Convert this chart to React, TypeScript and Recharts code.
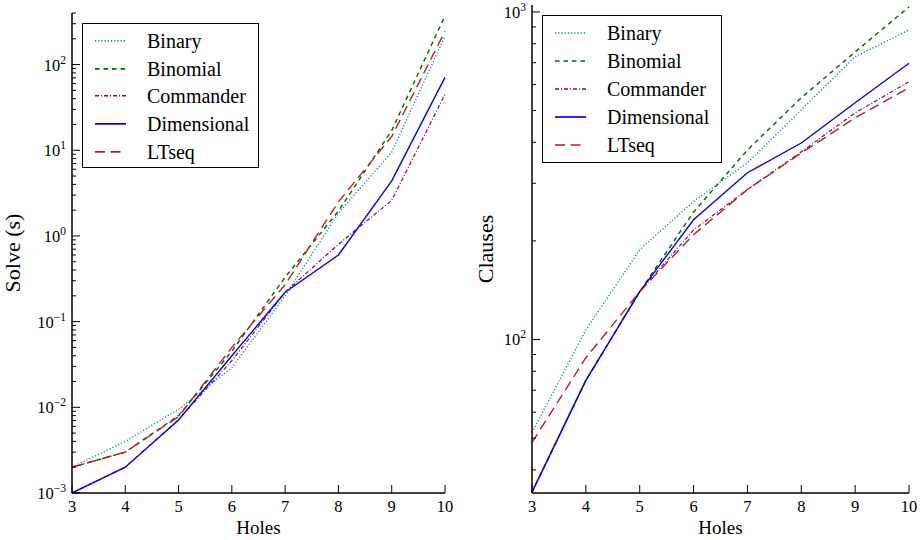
import React from "react";
import { Label, Legend, Line, LineChart, XAxis, YAxis } from "recharts";

const holes = [3, 4, 5, 6, 7, 8, 9, 10];

// solve time (s), left panel
const solveBinary = [0.002, 0.004, 0.0095, 0.029, 0.2, 1.85, 9.5, 215];
const solveBinomial = [0.002, 0.003, 0.008, 0.045, 0.33, 1.95, 17, 370];
const solveCommander = [0.001, 0.002, 0.0072, 0.035, 0.22, 0.8, 2.6, 45];
const solveDimensional = [0.001, 0.002, 0.0071, 0.04, 0.22, 0.6, 4.4, 71];
const solveLTseq = [0.002, 0.003, 0.0078, 0.05, 0.27, 2.5, 14.5, 245];

// clause counts, right panel
const clausesBinary = [52, 107, 188, 264, 346, 503, 730, 881];
const clausesBinomial = [34.2, 75, 140, 245, 379, 547, 755, 1036];
const clausesCommander = [34.2, 75, 140, 216, 287, 374, 492, 612];
const clausesDimensional = [34.2, 75, 140, 232, 323, 398, 528, 697];
const clausesLTseq = [48.5, 88, 140, 209, 287, 371, 475, 587];

const seriesNames = ["Binary", "Binomial", "Commander", "Dimensional", "LTseq"];
const solveSeries = [solveBinary, solveBinomial, solveCommander, solveDimensional, solveLTseq];
const clauseSeries = [clausesBinary, clausesBinomial, clausesCommander, clausesDimensional, clausesLTseq];

const styles: Record<string, { color: string; dash?: string; width: number }> = {
  Binary: { color: "#008b8b", dash: "1.2 2", width: 1.3 },
  Binomial: { color: "#006400", dash: "4.5 4", width: 1.4 },
  Commander: { color: "#800080", dash: "4 2 1 2", width: 1.2 },
  Dimensional: { color: "#0000ff", width: 1.4 },
  LTseq: { color: "#b22222", dash: "10 5.5", width: 1.4 },
};

const FONT = "'Liberation Serif', 'DejaVu Serif', serif";

const buildRows = (series: number[][]) =>
  holes.map((h, i) => {
    const row: Record<string, number> = { holes: h };
    seriesNames.forEach((name, k) => {
      row[name] = series[k][i];
    });
    return row;
  });

const solveRows = buildRows(solveSeries);
const clauseRows = buildRows(clauseSeries);

const logTicks = (lo: number, hi: number) => {
  const out: number[] = [];
  for (let e = -4; e <= 4; e++) {
    for (let m = 1; m <= 9; m++) {
      const v = Number((m * Math.pow(10, e)).toPrecision(6));
      if (v >= lo && v <= hi) out.push(v);
    }
  }
  return out;
};

const solveTicks = logTicks(0.001, 400);
const clauseTicks = logTicks(34, 1050);

const decade = (v: number) => {
  const l = Math.log10(v);
  return Math.abs(l - Math.round(l)) < 1e-6 ? Math.round(l) : null;
};

const MAJOR = 8;
const MINOR = 4;

const LeftTick = (props: any) => {
  const { x, y, payload } = props;
  const exp = decade(payload.value);
  return (
    <g>
      <line x1={x} x2={x + (exp !== null ? MAJOR : MINOR)} y1={y} y2={y} stroke="#000" strokeWidth={1} />
      {exp !== null && (
        <text x={x - 6} y={y} dy="0.36em" textAnchor="end" fontFamily={FONT} fontSize={16.5} fill="#000">
          10
          <tspan dy={-7} fontSize={11.5}>
            {exp < 0 ? `\u2212${-exp}` : exp}
          </tspan>
        </text>
      )}
    </g>
  );
};

const RightTick = (props: any) => {
  const { x, y, payload } = props;
  const exp = decade(payload.value);
  return <line x1={x} x2={x - (exp !== null ? MAJOR : MINOR)} y1={y} y2={y} stroke="#000" strokeWidth={1} />;
};

const BottomTick = (props: any) => {
  const { x, y, payload } = props;
  return (
    <g>
      <line x1={x} x2={x} y1={y} y2={y - MAJOR} stroke="#000" strokeWidth={1} />
      <text x={x} y={y + 7} dy="0.72em" textAnchor="middle" fontFamily={FONT} fontSize={16.5} fill="#000">
        {payload.value}
      </text>
    </g>
  );
};

const TopTick = (props: any) => {
  const { x, y } = props;
  return <line x1={x} x2={x} y1={y} y2={y + MAJOR} stroke="#000" strokeWidth={1} />;
};

const LegendBox = ({ width, height, rowH, padTop }: { width: number; height: number; rowH: number; padTop: number }) => (
  <div
    style={{
      width,
      height,
      boxSizing: "border-box",
      border: "1.5px solid #000",
      background: "#fff",
      paddingTop: padTop,
      fontFamily: FONT,
      fontSize: 20,
      color: "#000",
    }}
  >
    {seriesNames.map((name) => {
      const s = styles[name];
      return (
        <div key={name} style={{ height: rowH, display: "flex", alignItems: "center" }}>
          <svg width={64} height={rowH} style={{ flex: "none" }}>
            <line
              x1={12}
              x2={43}
              y1={rowH / 2}
              y2={rowH / 2}
              stroke={s.color}
              strokeWidth={s.width + 0.3}
              strokeDasharray={s.dash}
            />
          </svg>
          <span style={{ lineHeight: 1 }}>{name}</span>
        </div>
      );
    })}
  </div>
);

type PanelProps = {
  rows: Record<string, number>[];
  domain: [number, number];
  ticks: number[];
  margin: { top: number; right: number; bottom: number; left: number };
  yLabel: string;
  yLabelShift: number;
  legend: { top: number; left: number; width: number; height: number; rowH: number; padTop: number };
};

const Panel = ({ rows, domain, ticks, margin, yLabel, yLabelShift, legend }: PanelProps) => (
  <LineChart width={460} height={540} data={rows} margin={margin}>
    <XAxis
      dataKey="holes"
      type="number"
      domain={[3, 10]}
      ticks={holes}
      interval={0}
      height={30}
      tickSize={0}
      tickMargin={0}
      tickLine={false}
      axisLine={{ stroke: "#000", strokeWidth: 1.5 }}
      tick={<BottomTick />}
    >
      <Label
        content={({ viewBox }: any) => (
          <text
            x={viewBox.x + viewBox.width / 2}
            y={viewBox.y + 41}
            textAnchor="middle"
            fontFamily={FONT}
            fontSize={19}
            fill="#000"
          >
            Holes
          </text>
        )}
      />
    </XAxis>
    <XAxis
      xAxisId="top"
      orientation="top"
      type="number"
      domain={[3, 10]}
      ticks={holes}
      interval={0}
      height={0}
      tickSize={0}
      tickMargin={0}
      tickLine={false}
      axisLine={{ stroke: "#000", strokeWidth: 1.5 }}
      tick={<TopTick />}
    />
    <YAxis
      type="number"
      scale="log"
      domain={domain}
      allowDataOverflow
      ticks={ticks}
      interval={0}
      width={60}
      tickSize={0}
      tickMargin={0}
      tickLine={false}
      axisLine={{ stroke: "#000", strokeWidth: 1.5 }}
      tick={<LeftTick />}
    >
      <Label
        content={({ viewBox }: any) => {
          const lx = viewBox.x + yLabelShift;
          const ly = viewBox.y + viewBox.height / 2;
          return (
            <text
              x={lx}
              y={ly}
              transform={`rotate(-90, ${lx}, ${ly})`}
              textAnchor="middle"
              fontFamily={FONT}
              fontSize={22}
              fill="#000"
            >
              {yLabel}
            </text>
          );
        }}
      />
    </YAxis>
    <YAxis
      yAxisId="right"
      orientation="right"
      type="number"
      scale="log"
      domain={domain}
      allowDataOverflow
      ticks={ticks}
      interval={0}
      width={0}
      tickSize={0}
      tickMargin={0}
      tickLine={false}
      axisLine={{ stroke: "#000", strokeWidth: 1.5 }}
      tick={<RightTick />}
    />
    <Legend
      layout="horizontal"
      verticalAlign="middle"
      align="center"
      wrapperStyle={{ position: "absolute", top: legend.top, left: legend.left, width: "auto", height: "auto" }}
      content={() => (
        <LegendBox width={legend.width} height={legend.height} rowH={legend.rowH} padTop={legend.padTop} />
      )}
    />
    {seriesNames.map((name) => (
      <Line
        key={name}
        dataKey={name}
        name={name}
        type="linear"
        stroke={styles[name].color}
        strokeWidth={styles[name].width}
        strokeDasharray={styles[name].dash}
        dot={false}
        activeDot={false}
        isAnimationActive={false}
      />
    ))}
  </LineChart>
);

export default function App() {
  return (
    <div style={{ position: "absolute", left: 0, top: 0, width: 920, height: 540, background: "#fff", overflow: "hidden" }}>
      <div style={{ position: "absolute", left: 0, top: 0 }}>
        <Panel
          rows={solveRows}
          domain={[0.001, 400]}
          ticks={solveTicks}
          margin={{ top: 13, right: 15, bottom: 17, left: 12 }}
          yLabel="Solve (s)"
          yLabelShift={8}
          legend={{ top: 23, left: 82, width: 177, height: 145, rowH: 27.7, padTop: 3 }}
        />
      </div>
      <div style={{ position: "absolute", left: 460, top: 0 }}>
        <Panel
          rows={clauseRows}
          domain={[34, 1050]}
          ticks={clauseTicks}
          margin={{ top: 5, right: 11, bottom: 17, left: 12 }}
          yLabel="Clauses"
          yLabelShift={21}
          legend={{ top: 15, left: 82, width: 180, height: 148, rowH: 28, padTop: 3 }}
        />
      </div>
    </div>
  );
}
